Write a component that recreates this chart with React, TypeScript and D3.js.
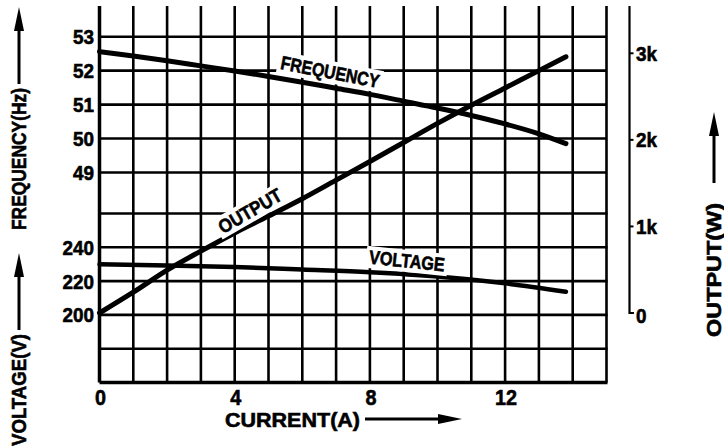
import React from "react";
import * as d3 from "d3";

const W = 724;
const H = 447;

// grid / ticks
const gridCurrents = d3.range(0, 16);
const currentTicks = [0, 4, 8, 12];
const freqTicks = [53, 52, 51, 50, 49];
const voltGrid = [260, 240, 220, 200, 180, 160];
const voltTicks = [240, 220, 200];
const outputTicks = [0, 1000, 2000, 3000];
const outputTickLabels = ["0", "1k", "2k", "3k"];

// series
const freqCurrent = [0, 1, 2, 3, 4, 5, 6, 7, 8, 9, 10, 11, 12, 13, 13.8];
const frequency = [52.56, 52.43, 52.29, 52.14, 51.99, 51.83, 51.66, 51.48, 51.3, 51.1, 50.9, 50.68, 50.43, 50.14, 49.85];
const outputCurrent = [0, 1, 2, 3, 4, 5, 6, 7, 8, 9, 10, 11, 12, 13, 13.8];
const output = [0, 240, 495, 715, 925, 1120, 1320, 1535, 1750, 1970, 2190, 2400, 2600, 2800, 2960];
const voltCurrent = [0, 2, 4, 6, 8, 10, 12, 13.8];
const voltage = [230, 229.3, 228.3, 226.8, 225.2, 222.7, 218.7, 213.7];

const FONT = "'Liberation Sans', Arial, sans-serif";
const HEAVY = { stroke: "#000", strokeWidth: 0.6, paintOrder: "stroke" } as const;

export default function App() {
  const x = d3.scaleLinear().domain([0, 15]).range([99.5, 606.5]);
  const yF = d3.scaleLinear().domain([49, 53]).range([172.5, 36.7]);
  const yV = d3.scaleLinear().domain([160, 260]).range([382.5, 213.5]);
  const yO = d3.scaleLinear().domain([0, 3000]).range([313, 53.3]);

  const gridTop = 6;
  const gridBottom = yV(160);

  const lineF = d3.line<number>().x((_, i) => x(freqCurrent[i])).y((d) => yF(d)).curve(d3.curveMonotoneX);
  const lineO = d3.line<number>().x((_, i) => x(outputCurrent[i])).y((d) => yO(d)).curve(d3.curveMonotoneX);
  const lineV = d3.line<number>().x((_, i) => x(voltCurrent[i])).y((d) => yV(d)).curve(d3.curveMonotoneX);

  const label = (text: string, cx: number, cy: number, rot: number, w: number) => (
    <g transform={`translate(${cx},${cy}) rotate(${rot})`}>
      <rect x={-w / 2 - 3} y={-11} width={w + 6} height={22} fill="#fff" />
      <text
        textAnchor="middle"
        dominantBaseline="central"
        fontSize={19}
        fontWeight="bold"
        textLength={w}
        lengthAdjust="spacingAndGlyphs"
        {...HEAVY}
      >
        {text}
      </text>
    </g>
  );

  const arrowUp = (cx: number, tipY: number, baseY: number) => (
    <g>
      <line x1={cx} x2={cx} y1={tipY + 18} y2={baseY} stroke="#000" strokeWidth={3} />
      <path d={`M${cx},${tipY} L${cx - 5},${tipY + 24} L${cx + 5},${tipY + 24} Z`} fill="#000" />
    </g>
  );

  const digitW = 10.5;

  return (
    <svg width={W} height={H} style={{ position: "absolute", left: 0, top: 0, background: "#fff" }} fontFamily={FONT}>
      <rect width={W} height={H} fill="#fff" />
      {/* vertical grid */}
      {gridCurrents.map((c) => (
        <line key={"v" + c} x1={x(c)} x2={x(c)} y1={gridTop} y2={gridBottom} stroke="#000" strokeWidth={c === 0 ? 3.5 : 2.6} />
      ))}
      {/* horizontal grid */}
      {freqTicks.map((f) => (
        <line key={"hf" + f} x1={x(0)} x2={x(15)} y1={yF(f)} y2={yF(f)} stroke="#000" strokeWidth={2.6} />
      ))}
      {voltGrid.map((v) => (
        <line key={"hv" + v} x1={x(0)} x2={x(15) + 1} y1={yV(v)} y2={yV(v)} stroke="#000" strokeWidth={v === 160 ? 3.4 : 2.6} />
      ))}

      {/* data lines */}
      <path d={lineF(frequency) || ""} fill="none" stroke="#000" strokeWidth={5} strokeLinecap="round" />
      <path d={lineO(output) || ""} fill="none" stroke="#000" strokeWidth={5} strokeLinecap="round" />
      <path d={lineV(voltage) || ""} fill="none" stroke="#000" strokeWidth={4.5} strokeLinecap="round" />

      {/* curve labels */}
      {label("FREQUENCY", 330, 72, 11, 100)}
      {label("OUTPUT", 250, 211, -30, 70)}
      {label("VOLTAGE", 407, 261, 6, 76)}

      {/* left tick labels */}
      {freqTicks.map((f) => (
        <text key={"tf" + f} x={94} y={yF(f) + 7.5} textAnchor="end" fontSize={21} fontWeight="bold"
          textLength={String(f).length * digitW} lengthAdjust="spacingAndGlyphs" {...HEAVY}>
          {f}
        </text>
      ))}
      {voltTicks.map((v) => (
        <text key={"tv" + v} x={94} y={yV(v) + 7.5} textAnchor="end" fontSize={21} fontWeight="bold"
          textLength={String(v).length * digitW} lengthAdjust="spacingAndGlyphs" {...HEAVY}>
          {v}
        </text>
      ))}

      {/* bottom tick labels */}
      {currentTicks.map((c) => (
        <text key={"tc" + c} x={x(c) + 1} y={405} textAnchor="middle" fontSize={22} fontWeight="bold"
          textLength={String(c).length * 11} lengthAdjust="spacingAndGlyphs" {...HEAVY}>
          {c}
        </text>
      ))}
      <text x={225} y={427} fontSize={20} fontWeight="bold" textLength={135} lengthAdjust="spacingAndGlyphs" {...HEAVY}>
        CURRENT(A)
      </text>
      <line x1={365} x2={440} y1={419} y2={419} stroke="#000" strokeWidth={3} />
      <path d={`M${462},419 L438,414 L438,424 Z`} fill="#000" />

      {/* right output axis */}
      <path
        d={`M${629.5},${gridTop} L${629.5},${yO(0)} L${634},${yO(0)}`}
        fill="none"
        stroke="#000"
        strokeWidth={2.2}
      />
      {outputTicks.map((o, i) => (
        <g key={"to" + o}>
          {o > 0 && <line x1={629.5} x2={633.5} y1={yO(o)} y2={yO(o)} stroke="#000" strokeWidth={2} />}
          <text x={636} y={yO(o) + (o === 0 ? 9.5 : 7.5)} fontSize={21} fontWeight="bold"
            textLength={o === 0 ? 10.5 : 21} lengthAdjust="spacingAndGlyphs" {...HEAVY}>
            {outputTickLabels[i]}
          </text>
        </g>
      ))}

      {/* left rotated axis titles */}
      <text
        transform="translate(26,446) rotate(-90)"
        fontSize={20}
        fontWeight="bold"
        textLength={112}
        lengthAdjust="spacingAndGlyphs"
        {...HEAVY}
      >
        VOLTAGE(V)
      </text>
      {arrowUp(19, 253, 330)}
      <text
        transform="translate(26,230) rotate(-90)"
        fontSize={20}
        fontWeight="bold"
        textLength={142}
        lengthAdjust="spacingAndGlyphs"
        {...HEAVY}
      >
        FREQUENCY(Hz)
      </text>
      {arrowUp(19, 7, 84)}

      {/* right rotated title */}
      <text
        transform="translate(721,337) rotate(-90)"
        fontSize={20}
        fontWeight="bold"
        textLength={134}
        lengthAdjust="spacingAndGlyphs"
        {...HEAVY}
      >
        OUTPUT(W)
      </text>
      {arrowUp(714, 112, 183)}
    </svg>
  );
}
